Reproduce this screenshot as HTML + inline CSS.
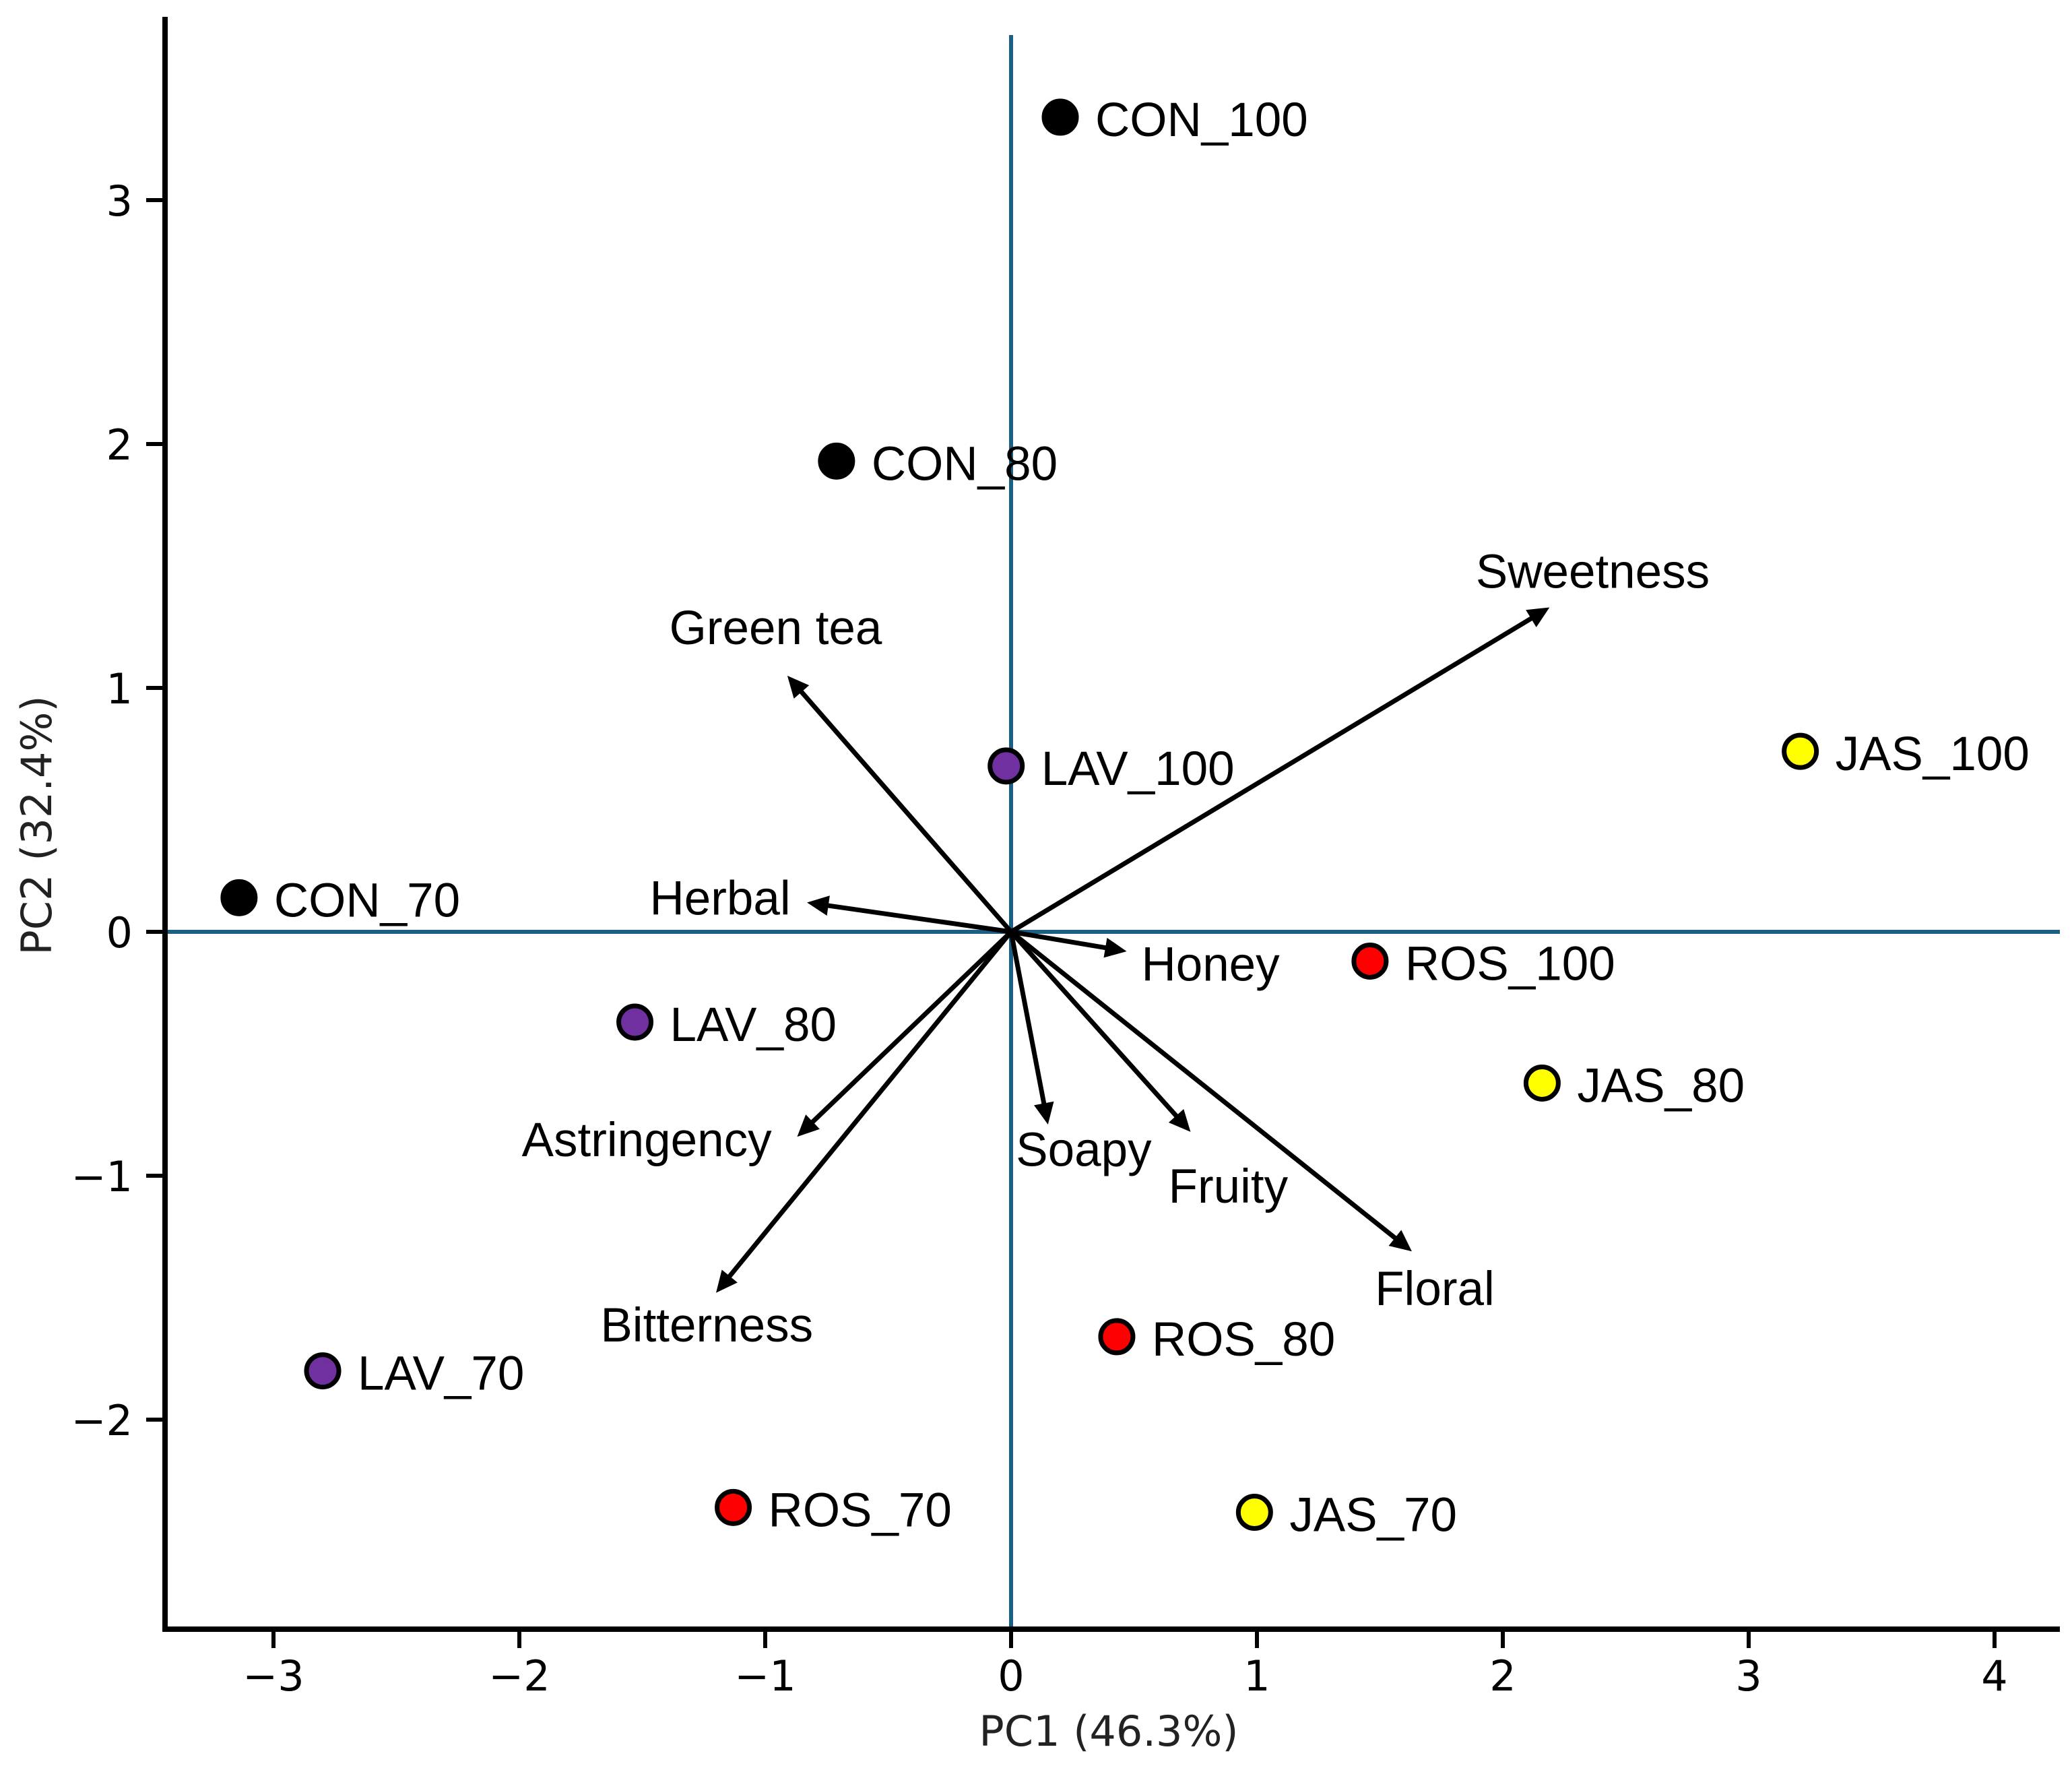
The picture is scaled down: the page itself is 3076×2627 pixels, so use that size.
<!DOCTYPE html>
<html><head><meta charset="utf-8"><style>html,body{margin:0;padding:0;background:#fff}svg{display:block}</style></head>
<body>
<svg id="chart" xmlns="http://www.w3.org/2000/svg" width="3076" height="2627" viewBox="0 0 3076 2627">
<g id="grid"></g>
</svg>
<script>
const sampleNames = ["CON_100","CON_80","CON_70","LAV_100","LAV_80","LAV_70","ROS_100","ROS_80","ROS_70","JAS_100","JAS_80","JAS_70"];
const samplePC1 = [0.20,-0.71,-3.14,-0.02,-1.53,-2.80,1.46,0.43,-1.13,3.21,2.16,0.99];
const samplePC2 = [3.34,1.93,0.14,0.68,-0.37,-1.80,-0.12,-1.66,-2.36,0.74,-0.62,-2.38];
const sampleColors = ["#000000","#000000","#000000","#7030a0","#7030a0","#7030a0","#ff0000","#ff0000","#ff0000","#ffff00","#ffff00","#ffff00"];
const loadingNames = ["Sweetness","Green tea","Herbal","Honey","Astringency","Bitterness","Soapy","Fruity","Floral"];
const loadingPC1 = [2.19,-0.91,-0.83,0.47,-0.87,-1.20,0.15,0.73,1.63];
const loadingPC2 = [1.33,1.05,0.12,-0.08,-0.84,-1.48,-0.79,-0.82,-1.31];
const loadingLabelPC1 = [1.89,-1.39,-1.47,0.53,-1.99,-1.67,0.02,0.64,1.48];
const loadingLabelPC2 = [1.41,1.18,0.07,-0.20,-0.92,-1.68,-0.96,-1.11,-1.53];
const xTicks = [-3,-2,-1,0,1,2,3,4];
const yTicks = [-2,-1,0,1,2,3];

const NS="http://www.w3.org/2000/svg";
const svg=document.getElementById('chart');
function sx(v){return 1501+v*365;}
function sy(v){return 1383-v*362;}
function el(tag,attrs,parent){const e=document.createElementNS(NS,tag);for(const k in attrs)e.setAttribute(k,attrs[k]);(parent||svg).appendChild(e);return e;}
const TF='"DejaVu Sans", sans-serif';
const LF='"Liberation Sans", sans-serif';

let vl=el('line',{x1:sx(0),y1:52,x2:sx(0),y2:2418,stroke:'#1d5f82','stroke-width':6});


let hl=el('line',{x1:245,y1:sy(0),x2:3058,y2:sy(0),stroke:'#1d5f82','stroke-width':6});



let ya=el('line',{x1:245,y1:25,x2:245,y2:2422,stroke:'#000','stroke-width':8});


let xa=el('line',{x1:241,y1:2418,x2:3058,y2:2418,stroke:'#000','stroke-width':8});



xTicks.forEach(t=>{
  let tk=el('line',{x1:sx(t),y1:2418,x2:sx(t),y2:2446,stroke:'#000','stroke-width':6});
  
  
  let tl=el('text',{x:sx(t),y:2509,'text-anchor':'middle','font-family':TF,'font-size':62,fill:'#000'});
  tl.textContent=t<0?'\u2212'+Math.abs(t):String(t);
  
  
});
yTicks.forEach(t=>{
  let tk=el('line',{x1:217,y1:sy(t),x2:245,y2:sy(t),stroke:'#000','stroke-width':6});
  
  
  let tl=el('text',{x:197,y:sy(t)+23,'text-anchor':'end','font-family':TF,'font-size':62,fill:'#000'});
  tl.textContent=t<0?'\u2212'+Math.abs(t):String(t);
  
  
});
let xt=el('text',{x:1646,y:2591,'text-anchor':'middle','font-family':TF,'font-size':62,fill:'#222'});
xt.textContent='PC1 (46.3%)';


let yt=el('text',{x:0,y:0,'text-anchor':'middle','font-family':TF,'font-size':62,fill:'#222',transform:'translate(76,1225) rotate(-90)'});
yt.textContent='PC2 (32.4%)';



loadingNames.forEach((n,i)=>{
  const x2=sx(loadingPC1[i]),y2=sy(loadingPC2[i]),x1=sx(0),y1=sy(0);
  const dx=x2-x1,dy=y2-y1,L=Math.hypot(dx,dy),ux=dx/L,uy=dy/L;
  const hl=32,hw=15;
  const bx=x2-ux*hl,by=y2-uy*hl;
  let ln=el('line',{x1:x1,y1:y1,x2:bx+ux*2,y2:by+uy*2,stroke:'#000','stroke-width':7});
  
  
  let hd=el('polygon',{points:`${x2},${y2} ${bx-uy*hw},${by+ux*hw} ${bx+uy*hw},${by-ux*hw}`,fill:'#000'});
  
  
  let tx=el('text',{x:sx(loadingLabelPC1[i]),y:sy(loadingLabelPC2[i]),'font-family':LF,'font-size':71,fill:'#000'});
  tx.textContent=n;
  
  
});

sampleNames.forEach((n,i)=>{
  const cx=sx(samplePC1[i]),cy=sy(samplePC2[i]);
  let c=el('circle',{cx:cx,cy:cy,r:24,fill:sampleColors[i],stroke:'#000','stroke-width':7});
  
  
  let t=el('text',{x:cx+52,y:cy+28,'font-family':LF,'font-size':71,fill:'#000'});
  t.textContent=n;
  
  
});
</script>
</body></html>
